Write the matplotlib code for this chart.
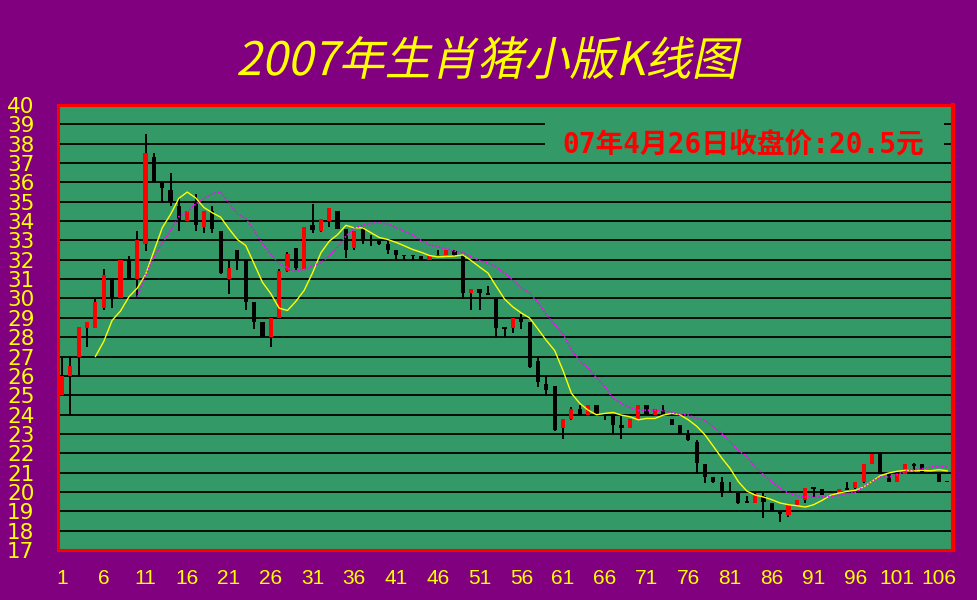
import numpy as np
import matplotlib
matplotlib.use("Agg")
import matplotlib.pyplot as plt
import matplotlib.transforms as mtransforms
from matplotlib.textpath import TextPath
from matplotlib.patches import PathPatch, Rectangle
from matplotlib.font_manager import FontProperties

# K线数据 (开, 高, 低, 收), 第1到第107根
opens = [25.0, 26.0, 27.0, 28.5, 28.5, 29.5, 31.0, 30.0, 32.0, 31.0,
         32.8, 37.3, 36.0, 35.6, 34.8, 34.0, 35.0, 33.7, 34.5, 33.5,
         31.0, 32.5, 32.0, 29.8, 28.8, 28.0, 29.0, 31.4, 32.6, 31.5,
         33.8, 33.5, 34.0, 34.5, 33.6, 32.6, 33.6, 33.0, 32.95, 32.8,
         32.48, 32.27, 32.22, 32.17, 32.0, 32.17, 32.27, 32.43, 32.27, 30.3,
         30.5, 30.3, 29.97, 28.54, 28.49, 29.0, 28.81, 26.77, 25.58, 25.48,
         23.32, 23.77, 24.28, 23.97, 24.49, 24.02, 23.97, 23.45, 23.28, 23.71,
         24.49, 23.97, 24.23, 23.77, 23.45, 22.99, 22.59, 21.47, 20.76, 20.5,
         20.03, 19.96, 19.52, 19.44, 19.77, 19.44, 18.95, 18.79, 19.34, 19.56,
         20.2, 20.15, 20.0, 19.96, 20.2, 20.2, 20.52, 21.47, 21.98, 20.95,
         20.52, 20.95, 21.42, 21.47, 21.0, 20.95, 20.52]
highs = [27.0, 27.0, 28.5, 28.8, 30.0, 31.5, 31.0, 32.0, 32.2, 33.5,
         38.5, 37.5, 36.0, 36.5, 35.2, 34.5, 35.4, 34.5, 34.8, 33.5,
         32.0, 32.5, 32.0, 29.8, 28.8, 29.0, 31.5, 32.4, 32.6, 33.7,
         34.9, 34.1, 34.7, 34.5, 33.6, 33.5, 33.7, 33.3, 32.95, 32.95,
         32.48, 32.27, 32.27, 32.17, 32.17, 32.48, 32.48, 32.48, 32.27, 30.5,
         30.5, 30.66, 30.1, 28.54, 29.0, 29.21, 28.81, 26.95, 25.98, 25.48,
         23.77, 24.39, 24.49, 24.49, 24.49, 24.02, 23.97, 23.97, 23.77, 24.49,
         24.49, 24.28, 24.49, 23.77, 23.45, 23.2, 22.68, 21.47, 20.76, 20.76,
         20.5, 19.96, 19.77, 19.96, 19.96, 19.44, 18.95, 19.34, 19.56, 20.2,
         20.2, 20.15, 20.0, 20.17, 20.5, 20.5, 21.47, 22.0, 21.98, 20.95,
         20.95, 21.47, 21.52, 21.47, 21.0, 20.95, 20.52]
lows = [25.0, 24.0, 26.0, 27.5, 28.45, 29.4, 29.5, 30.0, 31.0, 30.0,
        32.45, 36.0, 35.0, 34.8, 33.5, 34.0, 33.5, 33.4, 33.4, 31.25,
        30.25, 31.45, 29.42, 28.43, 28.0, 27.47, 29.0, 31.35, 31.45, 31.5,
        33.4, 33.46, 33.72, 33.57, 32.1, 32.5, 32.84, 32.7, 32.75, 32.32,
        32.0, 32.0, 32.0, 32.0, 32.0, 32.17, 32.27, 32.22, 29.97, 29.42,
        29.42, 30.16, 27.97, 27.97, 28.24, 28.43, 26.43, 25.44, 24.96, 23.14,
        22.73, 23.71, 23.97, 23.97, 23.97, 23.71, 22.99, 22.73, 23.28, 23.71,
        23.97, 23.97, 23.97, 23.45, 22.99, 22.64, 20.95, 20.46, 20.46, 19.74,
        19.96, 19.4, 19.44, 19.44, 18.65, 18.98, 18.44, 18.73, 19.34, 19.44,
        19.74, 19.82, 19.96, 19.96, 20.08, 20.15, 20.46, 21.47, 20.95, 20.52,
        20.52, 20.95, 21.0, 21.0, 21.0, 20.52, 20.5]
closes = [26.0, 26.5, 28.5, 28.8, 29.8, 31.2, 30.0, 32.0, 31.0, 33.0,
          37.5, 36.0, 35.7, 35.0, 34.0, 34.5, 33.8, 34.5, 33.6, 31.3,
          31.6, 32.0, 29.8, 28.8, 28.0, 29.0, 31.4, 32.3, 31.6, 33.7,
          33.55, 34.1, 34.7, 33.6, 32.5, 33.5, 32.95, 32.95, 32.8, 32.5,
          32.27, 32.2, 32.18, 32.0, 32.17, 32.27, 32.48, 32.27, 30.3, 30.5,
          30.3, 30.2, 28.49, 28.43, 29.0, 28.81, 26.48, 25.68, 25.27, 23.2,
          23.77, 24.28, 23.97, 24.49, 23.97, 23.97, 23.45, 23.28, 23.77, 24.49,
          23.97, 24.28, 23.97, 23.45, 22.99, 22.68, 21.5, 20.77, 20.52, 19.96,
          19.96, 19.44, 19.44, 19.91, 19.48, 18.98, 18.84, 19.34, 19.56, 20.2,
          20.17, 19.82, 19.96, 20.17, 20.1, 20.5, 21.47, 21.98, 20.95, 20.52,
          20.95, 21.45, 21.33, 21.0, 20.98, 20.52, 20.5]

# 均线 (黄线从第5根开始, 紫线从第10根开始)
ma_short = [27.0, 27.78, 28.87, 29.35, 30.08, 30.53, 31.23, 32.44, 33.65, 34.35,
            35.18, 35.5, 35.2, 34.7, 34.43, 34.2, 33.6,
            33.05, 32.74, 31.8, 30.84, 30.25, 29.5, 29.38, 29.85, 30.42, 31.32,
            32.36, 32.96, 33.3, 33.78, 33.65, 33.65, 33.4, 33.15, 33.05, 32.9, 32.72,
            32.53, 32.39, 32.22, 32.15, 32.17, 32.19, 32.25, 31.96, 31.63, 31.32,
            30.63, 29.97, 29.56, 29.25, 28.99, 28.42, 27.83, 27.31, 26.27, 25.1,
            24.58, 24.23, 23.99, 24.06, 24.11, 23.97, 23.89, 23.73, 23.8, 23.8,
            23.97, 24.06, 23.99, 23.73, 23.4, 22.95, 22.36, 21.76, 21.22, 20.53,
            20.05, 19.84, 19.74, 19.6, 19.43, 19.34, 19.29, 19.22, 19.34, 19.56,
            19.82, 19.94, 20.03, 20.08, 20.26, 20.55, 20.84, 20.98, 21.07, 21.12,
            21.09, 21.12, 21.09, 21.15, 21.09]
ma_long = [30.08, 31.18, 32.15, 32.84, 33.53, 34.23, 34.47, 34.88, 35.16, 35.42, 35.5, 34.94,
           34.38, 34.12, 33.52, 32.84, 32.31, 31.8, 31.58, 31.39, 31.5, 31.67, 31.84,
           32.19, 32.65, 33.22, 33.64, 33.78, 33.88, 33.91, 33.85, 33.67, 33.47,
           33.27, 33.0, 32.77, 32.67, 32.57, 32.44, 32.39, 32.15, 31.96, 31.82,
           31.63, 31.32, 30.94, 30.54, 30.28, 29.77, 29.16, 28.64, 28.16, 27.35,
           26.79, 26.39, 25.91, 25.44, 24.84, 24.58, 24.37, 24.23, 24.23, 24.23,
           24.2, 24.11, 24.02, 23.97, 23.8, 23.71, 23.37, 23.02, 22.59, 22.13,
           21.85, 21.29, 20.9, 20.53, 20.19, 19.94, 19.81, 19.74, 19.74, 19.74,
           19.77, 19.82, 19.91, 19.98, 20.26, 20.55, 20.77, 20.77, 20.91, 21.07,
           21.15, 21.2, 21.29, 21.33, 21.29]

title = "2007年生肖猪小版K线图"
note = "07年4月26日收盘价:20.5元"
xticks = list(range(1, 107, 5))
yticks = list(range(17, 41))

purple = "#800080"
green = "#339966"

o = np.array(opens)
h = np.array(highs)
l = np.array(lows)
c = np.array(closes)
x = np.arange(1, len(o) + 1)

fig = plt.figure(figsize=(9.77, 6.0), dpi=100, facecolor=purple)
ax = fig.add_axes([58 / 977, 50 / 600, 895 / 977, 445 / 600])
ax.set_facecolor(green)

ax.set_xlim(0.52, 107.7)
ax.set_ylim(17, 40)
ax.set_yticks(yticks)
ax.set_xticks(xticks)
ax.set_axisbelow(True)
ax.grid(axis="y", color="black", lw=1.3)
ax.tick_params(length=0)
for lab in ax.get_yticklabels():
    lab.set_color("#FFFF00")
    lab.set_fontsize(15.5)
    lab.set_family("DejaVu Sans")
for lab in ax.get_xticklabels():
    lab.set_color("#FFFF00")
    lab.set_fontsize(15)
    lab.set_family("Liberation Sans")
ax.tick_params(axis="y", pad=17)
ax.tick_params(axis="x", pad=14)
for s in ax.spines.values():
    s.set_color("red")
    s.set_linewidth(2.2)
ax.spines["right"].set_linewidth(3)

# 蜡烛
up = c >= o
ax.vlines(x, l, h, color="black", lw=1.4, zorder=3)
body_lo = np.minimum(o, c)
body_h = np.maximum(np.abs(c - o), 0.07)
ax.bar(x[up], body_h[up], bottom=body_lo[up], width=0.5, color="red", zorder=4)
ax.bar(x[~up], body_h[~up], bottom=body_lo[~up], width=0.5, color="black", zorder=4)

# 均线
ax.plot(np.arange(5, 5 + len(ma_short)), ma_short, color="#FFFF00", lw=1.0, zorder=5)
ax.plot(np.arange(10, 10 + len(ma_long)), ma_long, color="#FF00FF", lw=1.2,
        ls=(0, (1, 1)), zorder=5)

# 收盘价注释
ax.add_patch(Rectangle((58.8, 37.5), 47.8, 2.0, facecolor=green, edgecolor="none", zorder=1))
ax.text(82.6, 37.98, note, color="red", fontsize=20, fontweight="bold",
        family=["DejaVu Sans Mono", "Noto Sans CJK SC"], ha="center", va="center", zorder=6)

# 斜体标题
tp = TextPath((0, 0), title, size=48, prop=FontProperties(family="Noto Sans CJK SC"))
ext = tp.get_extents()
slant = np.tan(np.radians(12))
sc = 505 / (ext.width + ext.height * slant)
trans = (mtransforms.Affine2D().translate(-ext.x0, -ext.y0).scale(sc)
         .skew(slant, 0).translate(237, 521))
fig.add_artist(PathPatch(tp, transform=trans, facecolor="#FFFF00", edgecolor="none"))

fig.savefig("out.png", dpi=100, facecolor=fig.get_facecolor())
